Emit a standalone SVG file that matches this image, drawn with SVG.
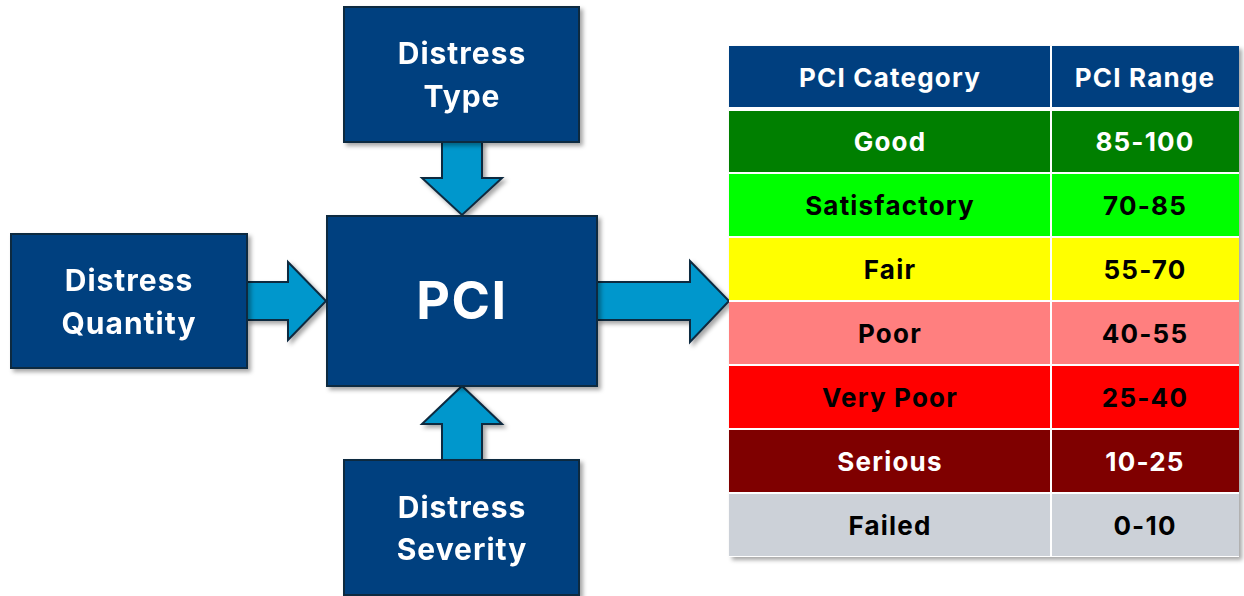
<svg xmlns="http://www.w3.org/2000/svg" width="1244" height="596" viewBox="0 0 1244 596">
<defs>
<filter id="sh" x="-10%" y="-10%" width="125%" height="125%">
<feDropShadow dx="3" dy="3" stdDeviation="2" flood-color="#000" flood-opacity="0.35"/>
</filter>
<style>
.box{fill:#003F7F;stroke:#0E2A3F;stroke-width:2}
.arr{fill:#0097CC;stroke:#0E2A3F;stroke-width:2;stroke-linejoin:miter}
.bt{font-family:Inter,"Liberation Sans",sans-serif;font-weight:700;font-size:30px;letter-spacing:1px;fill:#fff;text-anchor:middle}
.tt{font-family:Inter,"Liberation Sans",sans-serif;font-weight:700;font-size:26px;letter-spacing:1.2px;text-anchor:middle;dominant-baseline:central}
.w{fill:#fff}.k{fill:#000}
</style>
</defs>
<rect width="1244" height="596" fill="#fff"/>
<g id="connectors" filter="url(#sh)">
<polygon class="arr" points="442,142 482,142 482,178 502,178 462,215 422,178 442,178"/>
<polygon class="arr" points="442,460 482,460 482,424 502,424 462,386 422,424 442,424"/>
<polygon class="arr" points="247,282 288,282 288,262 326,301 288,340 288,320 247,320"/>
<polygon class="arr" points="597,282 690,282 690,261 729,301 690,342 690,320 597,320"/>
</g>
<g id="distress-type" filter="url(#sh)">
<rect class="box" x="344" y="7" width="235" height="135"/>
<text class="bt" x="462" y="64">Distress</text>
<text class="bt" x="462" y="107">Type</text>
</g>
<g id="distress-quantity" filter="url(#sh)">
<rect class="box" x="11" y="234" width="236" height="134"/>
<text class="bt" x="129" y="291">Distress</text>
<text class="bt" x="129" y="334">Quantity</text>
</g>
<g id="pci" filter="url(#sh)">
<rect class="box" x="327" y="216" width="270" height="170"/>
<text class="bt" x="462" y="319" style="font-size:52px;letter-spacing:1.5px">PCI</text>
</g>
<g id="distress-severity" filter="url(#sh)">
<rect class="box" x="344" y="460" width="235" height="135"/>
<text class="bt" x="462" y="518">Distress</text>
<text class="bt" x="462" y="560">Severity</text>
</g>
<g id="pci-table">
<rect x="729" y="46" width="510" height="511" fill="#fff" filter="url(#sh)"/>
<rect x="729" y="46" width="321" height="61" fill="#003F7F"/><rect x="1052" y="46" width="187" height="61" fill="#003F7F"/>
<rect x="729" y="111" width="321" height="61" fill="#007F00"/><rect x="1052" y="111" width="187" height="61" fill="#007F00"/>
<rect x="729" y="174" width="321" height="62" fill="#00FF00"/><rect x="1052" y="174" width="187" height="62" fill="#00FF00"/>
<rect x="729" y="238" width="321" height="62" fill="#FFFF00"/><rect x="1052" y="238" width="187" height="62" fill="#FFFF00"/>
<rect x="729" y="302" width="321" height="62" fill="#FF7F7F"/><rect x="1052" y="302" width="187" height="62" fill="#FF7F7F"/>
<rect x="729" y="366" width="321" height="62" fill="#FF0000"/><rect x="1052" y="366" width="187" height="62" fill="#FF0000"/>
<rect x="729" y="430" width="321" height="62" fill="#7F0000"/><rect x="1052" y="430" width="187" height="62" fill="#7F0000"/>
<rect x="729" y="494" width="321" height="62" fill="#CCD1D8"/><rect x="1052" y="494" width="187" height="62" fill="#CCD1D8"/>
<text class="tt w" x="890" y="77">PCI Category</text><text class="tt w" x="1145" y="77">PCI Range</text>
<text class="tt w" x="890" y="141">Good</text><text class="tt w" x="1145" y="141">85-100</text>
<text class="tt k" x="890" y="205">Satisfactory</text><text class="tt k" x="1145" y="205">70-85</text>
<text class="tt k" x="890" y="269">Fair</text><text class="tt k" x="1145" y="269">55-70</text>
<text class="tt k" x="890" y="333">Poor</text><text class="tt k" x="1145" y="333">40-55</text>
<text class="tt k" x="890" y="397">Very Poor</text><text class="tt k" x="1145" y="397">25-40</text>
<text class="tt w" x="890" y="461">Serious</text><text class="tt w" x="1145" y="461">10-25</text>
<text class="tt k" x="890" y="525">Failed</text><text class="tt k" x="1145" y="525">0-10</text>
</g>
</svg>
